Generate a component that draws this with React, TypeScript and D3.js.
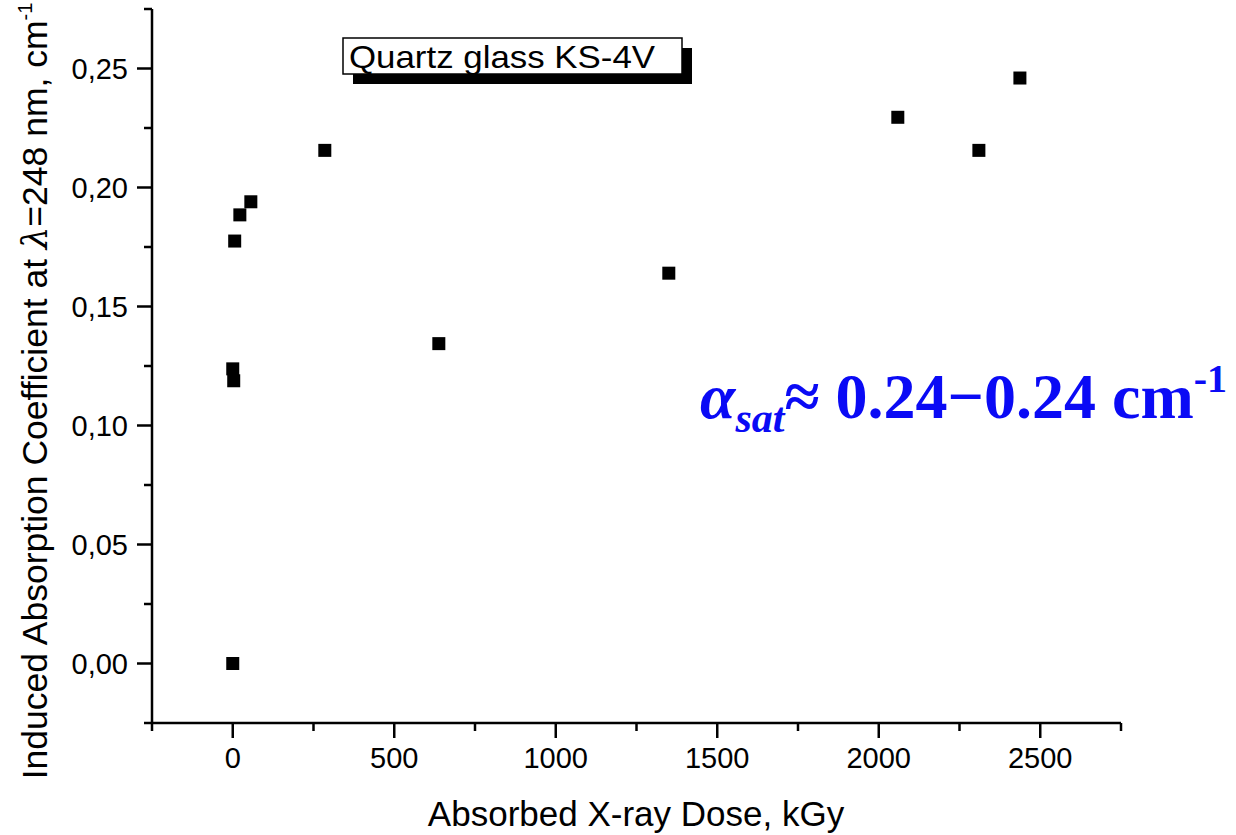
import React from "react";
import * as d3 from "d3";

const doseKGy = [0, 0, 3, 6, 22, 56, 285, 638, 1350, 2059, 2310, 2437];
const absorption = [0.0, 0.1238, 0.1188, 0.1775, 0.1885, 0.194, 0.2156, 0.1344, 0.164, 0.2295, 0.2156, 0.246];
const xMajorTicks = [0, 500, 1000, 1500, 2000, 2500];
const xMinorTicks = [-250, 250, 750, 1250, 1750, 2250, 2750];
const yMajorTicks = [0, 0.05, 0.1, 0.15, 0.2, 0.25];
const yMinorTicks = [-0.025, 0.025, 0.075, 0.125, 0.175, 0.225, 0.275];
const legendLabel = "Quartz glass KS-4V";
const xTitle = "Absorbed X-ray Dose, kGy";
const yTitleMain = "Induced Absorption Coefficient at ";

export default function App() {
  const W = 1236, H = 835;
  const x = d3.scaleLinear().domain([-250, 2750]).range([152, 1121]);
  const y = d3.scaleLinear().domain([-0.025, 0.275]).range([723, 9]);
  const fmt = (v: number) => d3.format(".2f")(v).replace(".", ",");
  const font = "'Liberation Sans', Arial, sans-serif";
  const ms = 13;
  const blue = "#0a0af5";
  return (
    <svg width={W} height={H} style={{ position: "fixed", left: 0, top: 0, background: "#fff" }} fontFamily={font}>
      <rect x={0} y={0} width={W} height={H} fill="#fff" />
      {/* axes */}
      <line x1={152} x2={152} y1={y(0.275)} y2={y(-0.025)} stroke="#000" strokeWidth={2.5} />
      <line x1={x(-250)} x2={x(2750)} y1={723} y2={723} stroke="#000" strokeWidth={2.5} />
      {yMajorTicks.map((t) => (
        <g key={"ym" + t}>
          <line x1={137} x2={152} y1={y(t)} y2={y(t)} stroke="#000" strokeWidth={2.5} />
          <text x={128} y={y(t)} dy="0.36em" textAnchor="end" fontSize={29} fill="#000">{fmt(t)}</text>
        </g>
      ))}
      {yMinorTicks.map((t) => (
        <line key={"yn" + t} x1={144} x2={152} y1={y(t)} y2={y(t)} stroke="#000" strokeWidth={2.5} />
      ))}
      {xMajorTicks.map((t) => (
        <g key={"xm" + t}>
          <line x1={x(t)} x2={x(t)} y1={723} y2={738} stroke="#000" strokeWidth={2.5} />
          <text x={x(t)} y={768} textAnchor="middle" fontSize={29} fill="#000">{t}</text>
        </g>
      ))}
      {xMinorTicks.map((t) => (
        <line key={"xn" + t} x1={x(t)} x2={x(t)} y1={723} y2={731} stroke="#000" strokeWidth={2.5} />
      ))}
      {/* titles */}
      <text x={636} y={826} textAnchor="middle" fontSize={35} fill="#000">{xTitle}</text>
      <text transform={`translate(47,${391}) rotate(-90)`} textAnchor="middle" fontSize={35.5} fill="#000">
        <tspan>{yTitleMain}</tspan>
        <tspan fontFamily="'DejaVu Serif', serif" fontStyle="italic">λ</tspan>
        <tspan>=248 nm, cm</tspan>
        <tspan dy={-15} fontSize={20}>-1</tspan>
      </text>
      {/* legend box */}
      <rect x={353} y={48} width={339} height={36} fill="#000" />
      <rect x={343} y={38} width={339} height={36} fill="#fff" stroke="#000" strokeWidth={1.5} />
      <text x={349} y={68} fontSize={32} fill="#000" textLength={306} lengthAdjust="spacingAndGlyphs">{legendLabel}</text>
      {/* points */}
      {doseKGy.map((d, i) => (
        <rect key={"p" + i} x={x(d) - ms / 2} y={y(absorption[i]) - ms / 2} width={ms} height={ms} fill="#000" />
      ))}
      {/* annotation */}
      <text x={700} y={418} fontFamily="'Liberation Serif', 'Times New Roman', serif" fontWeight="bold" fill={blue} fontSize={64}>
        <tspan fontStyle="italic">α</tspan>
        <tspan fontStyle="italic" fontSize={42} dy={14}>sat</tspan>
        <tspan dy={-14}>≈ 0.24</tspan>
        <tspan>−</tspan>
        <tspan>0.24 cm</tspan>
        <tspan fontSize={40} dy={-26}>-1</tspan>
      </text>
    </svg>
  );
}
